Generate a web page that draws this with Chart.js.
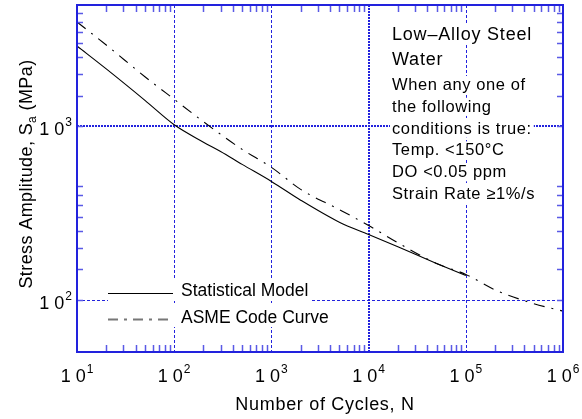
<!DOCTYPE html>
<html>
<head>
<meta charset="utf-8">
<script src="https://cdn.jsdelivr.net/npm/chart.js@4"></script>
<style>
  html, body { margin: 0; padding: 0; background: #fff; }
  #wrap { width: 582px; height: 419px; }
</style>
</head>
<body>
<div id="wrap"><canvas id="chart" width="582" height="419"></canvas></div>
<script>
// Fatigue curves for low-alloy steel in water

const statCycles = [10, 20, 50, 100, 200, 300, 500, 1000, 2000, 5000, 10000, 20000, 50000, 100000];
const statStress = [2900, 2140, 1410, 1020, 810, 716, 603, 481, 375, 280, 238, 202, 162, 138];

const asmeCycles = [10, 20, 50, 100, 200, 500, 1000, 2000, 5000, 10000, 20000, 50000, 100000, 200000, 500000, 1000000];
const asmeStress = [3990, 2940, 1930, 1430, 1062, 736, 580, 433, 331, 268, 213, 162, 140, 114, 95, 86];

const xDecades = [10, 100, 1000, 10000, 100000, 1000000];
const xExponents = ["1", "2", "3", "4", "5", "6"];
const yDecades = [100, 1000];
const yExponents = ["2", "3"];

const legendLabels = ["Statistical Model", "ASME Code Curve"];
const noteTitle = ["Low\u2013Alloy Steel", "Water"];
const noteBody = [
  "When any one of",
  "the following",
  "conditions is true:",
  "Temp. <150\u00b0C",
  "DO <0.05 ppm",
  "Strain Rate \u22651%/s",
];

const FONT = '"Liberation Sans", Arial, Helvetica, sans-serif';
const BLUE = "#2222dd";
const TICK_BLUE = "#5a5ae6";

function toPoints(xs, ys) {
  return xs.map((x, i) => ({ x: x, y: ys[i] }));
}

function minorValues(min, max) {
  const out = [];
  for (let d = min; d < max; d *= 10) {
    for (let k = 2; k <= 9; k++) {
      const v = d * k;
      if (v > min && v < max) out.push(v);
    }
  }
  return out;
}

function drawPower(ctx, exp, x, y, align) {
  ctx.font = "18px " + FONT;
  const bw = ctx.measureText("1 0").width;
  ctx.font = "12px " + FONT;
  const ew = ctx.measureText(exp).width;
  const total = bw + 1 + ew;
  const left = align === "center" ? x - total / 2 : x - total;
  ctx.textAlign = "left";
  ctx.textBaseline = "alphabetic";
  ctx.fillStyle = "#000";
  ctx.font = "18px " + FONT;
  ctx.fillText("1 0", left, y);
  ctx.font = "12px " + FONT;
  ctx.fillText(exp, left + bw + 1, y - 9);
}

function textWithBox(ctx, text, x, y, size, spacing) {
  ctx.font = size + "px " + FONT;
  ctx.letterSpacing = spacing + "px";
  const w = ctx.measureText(text).width;
  ctx.fillStyle = "#fff";
  ctx.fillRect(x - 2, y - size * 0.85, w + 4, size * 1.1);
  ctx.fillStyle = "#000";
  ctx.textAlign = "left";
  ctx.textBaseline = "alphabetic";
  ctx.fillText(text, x, y);
  ctx.letterSpacing = "0px";
}

const decorPlugin = {
  id: "decor",
  beforeDatasetsDraw(chart) {
    const ctx = chart.ctx;
    const xs = chart.scales.x;
    const ys = chart.scales.y;
    const a = chart.chartArea;
    ctx.save();

    // dotted decade grid
    ctx.strokeStyle = BLUE;
    xDecades.slice(1, -1).forEach((v) => {
      const px = Math.round(xs.getPixelForValue(v));
      const thick = v === 10000;
      ctx.lineWidth = thick ? 2 : 1;
      ctx.setLineDash(thick ? [2, 1] : [3, 2]);
      ctx.beginPath();
      ctx.moveTo(px + (thick ? 0 : 0.5), a.top);
      ctx.lineTo(px + (thick ? 0 : 0.5), a.bottom);
      ctx.stroke();
    });
    yDecades.forEach((v) => {
      const py = Math.round(ys.getPixelForValue(v));
      const thick = v === 1000;
      ctx.lineWidth = thick ? 2 : 1;
      ctx.setLineDash(thick ? [2, 1] : [3, 2]);
      ctx.beginPath();
      ctx.moveTo(a.left, py + (thick ? 0 : 0.5));
      ctx.lineTo(a.right, py + (thick ? 0 : 0.5));
      ctx.stroke();
    });
    ctx.setLineDash([]);

    // legend
    const legY = [293, 319];
    legendLabels.forEach((label, i) => {
      ctx.fillStyle = "#fff";
      ctx.fillRect(108, legY[i] - 14, 204, 22);
      ctx.fillStyle = "#000";
      ctx.font = "17.5px " + FONT;
      ctx.textAlign = "left";
      ctx.textBaseline = "alphabetic";
      ctx.fillText(label, 181, legY[i] + 3 + (i === 1 ? 1 : 0));
      ctx.beginPath();
      ctx.moveTo(108, legY[i] + 0.5);
      ctx.lineTo(173, legY[i] + 0.5);
      if (i === 0) {
        ctx.strokeStyle = "#000";
        ctx.lineWidth = 1;
        ctx.setLineDash([]);
      } else {
        ctx.strokeStyle = "#777";
        ctx.lineWidth = 2;
        ctx.setLineDash([10, 6, 3, 6]);
      }
      ctx.stroke();
      ctx.setLineDash([]);
    });

    // note text
    const titleY = [40, 65];
    noteTitle.forEach((t, i) => textWithBox(ctx, t, 392, titleY[i], 18, 0.8));
    noteBody.forEach((t, i) => textWithBox(ctx, t, 392, 90 + i * 21.8, 16.5, 0.6));

    ctx.restore();
  },
  afterDraw(chart) {
    const ctx = chart.ctx;
    const xs = chart.scales.x;
    const ys = chart.scales.y;
    const a = chart.chartArea;
    ctx.save();

    // minor ticks, inside on all sides
    ctx.strokeStyle = TICK_BLUE;
    ctx.lineWidth = 1.5;
    minorValues(xs.min, xs.max).forEach((v) => {
      const px = Math.round(xs.getPixelForValue(v)) + 0.5;
      ctx.beginPath();
      ctx.moveTo(px, a.bottom);
      ctx.lineTo(px, a.bottom - 7);
      ctx.moveTo(px, a.top);
      ctx.lineTo(px, a.top + 7);
      ctx.stroke();
    });
    minorValues(ys.min, ys.max).forEach((v) => {
      const py = Math.round(ys.getPixelForValue(v)) + 0.5;
      ctx.beginPath();
      ctx.moveTo(a.left, py);
      ctx.lineTo(a.left + 6, py);
      ctx.moveTo(a.right, py);
      ctx.lineTo(a.right - 6, py);
      ctx.stroke();
    });

    // frame
    ctx.strokeStyle = BLUE;
    ctx.lineWidth = 2;
    ctx.strokeRect(a.left, a.top, a.right - a.left, a.bottom - a.top);

    // tick labels
    xDecades.forEach((v, i) => {
      drawPower(ctx, xExponents[i], xs.getPixelForValue(v), 382, "center");
    });
    yDecades.forEach((v, i) => {
      drawPower(ctx, yExponents[i], 72, ys.getPixelForValue(v) + 9, "right");
    });

    // axis titles
    ctx.fillStyle = "#000";
    ctx.font = "18px " + FONT;
    ctx.letterSpacing = "0.7px";
    ctx.textAlign = "center";
    ctx.textBaseline = "alphabetic";
    ctx.fillText("Number of Cycles, N", 325, 410);

    ctx.translate(32, 174);
    ctx.rotate(-Math.PI / 2);
    const p1 = "Stress Amplitude, S";
    const p2 = "a";
    const p3 = " (MPa)";
    ctx.letterSpacing = "0.4px";
    ctx.font = "18px " + FONT;
    const w1 = ctx.measureText(p1).width;
    const w3 = ctx.measureText(p3).width;
    ctx.font = "12px " + FONT;
    const w2 = ctx.measureText(p2).width;
    let x0 = -(w1 + w2 + w3) / 2;
    ctx.textAlign = "left";
    ctx.font = "18px " + FONT;
    ctx.fillText(p1, x0, 0);
    ctx.font = "12px " + FONT;
    ctx.fillText(p2, x0 + w1, 4);
    ctx.font = "18px " + FONT;
    ctx.fillText(p3, x0 + w1 + w2, 0);
    ctx.letterSpacing = "0px";

    ctx.restore();
  },
};

const ctx = document.getElementById("chart").getContext("2d");
new Chart(ctx, {
  type: "line",
  data: {
    datasets: [
      {
        label: legendLabels[0],
        data: toPoints(statCycles, statStress),
        borderColor: "#000",
        borderWidth: 1.1,
        pointRadius: 0,
        cubicInterpolationMode: "monotone",
      },
      {
        label: legendLabels[1],
        data: toPoints(asmeCycles, asmeStress),
        borderColor: "#000",
        borderWidth: 1.1,
        borderDash: [11, 7, 2, 7],
        pointRadius: 0,
        cubicInterpolationMode: "monotone",
      },
    ],
  },
  options: {
    responsive: false,
    animation: false,
    devicePixelRatio: 1,
    layout: {
      padding: { left: 77, right: 19, top: 5, bottom: 67 },
    },
    scales: {
      x: { type: "logarithmic", min: 10, max: 1000000, display: false },
      y: { type: "logarithmic", min: 50, max: 5000, display: false },
    },
    plugins: {
      legend: { display: false },
      tooltip: { enabled: false },
    },
  },
  plugins: [decorPlugin],
});
</script>
</body>
</html>
